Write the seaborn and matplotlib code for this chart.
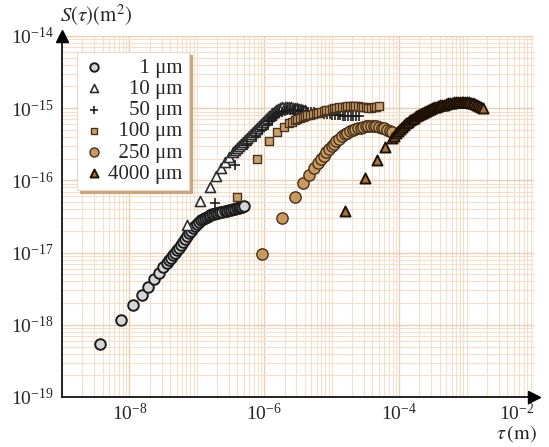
import numpy as np
import pandas as pd
import matplotlib
matplotlib.use("Agg")
import matplotlib.pyplot as plt
from matplotlib.ticker import FixedLocator, LogLocator, NullFormatter
import seaborn as sns

# Structure function S(tau) for several sampling scales (log10 of lag in m, log10 of S in m^2)
grain_um = [1, 10, 50, 100, 250, 4000]

log_tau_1um = [-8.43, -8.13, -7.94, -7.82, -7.73, -7.64, -7.56, -7.50, -7.44,
               -7.41, -7.38, -7.35, -7.32, -7.29, -7.26, -7.24, -7.21, -7.18, -7.15,
               -7.12, -7.09, -7.06, -7.03, -7.00, -6.97, -6.94, -6.91, -6.88, -6.85,
               -6.82, -6.80, -6.77, -6.74, -6.71, -6.68, -6.65, -6.62, -6.59, -6.56,
               -6.53, -6.50, -6.47, -6.44, -6.41, -6.38, -6.36, -6.33, -6.30]
log_s_1um = [-18.27, -17.93, -17.73, -17.59, -17.48, -17.37, -17.28, -17.20, -17.14,
             -17.10, -17.07, -17.03, -17.01, -16.96, -16.94, -16.89, -16.85, -16.81, -16.77,
             -16.73, -16.70, -16.66, -16.63, -16.60, -16.58, -16.55, -16.53, -16.52, -16.51,
             -16.49, -16.48, -16.47, -16.47, -16.45, -16.45, -16.44, -16.44, -16.42, -16.42,
             -16.41, -16.41, -16.40, -16.40, -16.38, -16.38, -16.37, -16.37, -16.35]

log_tau_10um = [-7.15, -6.95, -6.81, -6.72, -6.64, -6.58, -6.52, -6.46,
                -6.43, -6.40, -6.37, -6.35, -6.32, -6.29, -6.26, -6.23, -6.20, -6.17,
                -6.14, -6.11, -6.08, -6.05, -6.02, -5.99, -5.96, -5.93, -5.90, -5.88,
                -5.85, -5.82, -5.79, -5.76, -5.73, -5.70, -5.67, -5.64, -5.61, -5.58,
                -5.55, -5.52, -5.49, -5.46, -5.43, -5.40]
log_s_10um = [-16.62, -16.29, -16.09, -15.94, -15.83, -15.75, -15.68, -15.61,
              -15.58, -15.55, -15.52, -15.50, -15.47, -15.44, -15.41, -15.39, -15.36, -15.33,
              -15.30, -15.27, -15.25, -15.22, -15.19, -15.16, -15.14, -15.11, -15.09, -15.07,
              -15.05, -15.03, -15.01, -15.00, -14.98, -14.98, -14.98, -14.98, -14.98, -15.00,
              -15.00, -15.00, -15.01, -15.01, -15.03, -15.03]

log_tau_50um = [-6.73, -6.43, -6.25, -6.13, -6.03, -5.95,
                -5.93, -5.89, -5.85, -5.82, -5.78, -5.74, -5.70, -5.66, -5.62, -5.58,
                -5.54, -5.50, -5.46, -5.42, -5.38, -5.35, -5.31, -5.27, -5.23, -5.19,
                -5.15, -5.11, -5.07, -5.03, -4.99, -4.95, -4.91, -4.88, -4.84, -4.80,
                -4.76, -4.72, -4.68, -4.64, -4.60]
log_s_50um = [-16.31, -15.79, -15.51, -15.40, -15.30, -15.23,
              -15.18, -15.15, -15.12, -15.09, -15.07, -15.05, -15.04, -15.03, -15.03, -15.03,
              -15.03, -15.03, -15.04, -15.04, -15.04, -15.05, -15.05, -15.05, -15.07, -15.07,
              -15.07, -15.08, -15.08, -15.08, -15.09, -15.09, -15.09, -15.09, -15.11, -15.11,
              -15.11, -15.11, -15.11, -15.11, -15.11]

log_tau_100um = [-6.41, -6.11, -5.93, -5.81, -5.71, -5.63,
                 -5.59, -5.55, -5.51, -5.47, -5.43, -5.40, -5.36, -5.32, -5.28, -5.24,
                 -5.20, -5.16, -5.12, -5.08, -5.04, -5.00, -4.96, -4.93, -4.89, -4.85,
                 -4.81, -4.77, -4.73, -4.69, -4.65, -4.61, -4.57, -4.53, -4.49, -4.46,
                 -4.42, -4.38, -4.34, -4.30]
log_s_100um = [-16.23, -15.70, -15.45, -15.33, -15.26, -15.20,
               -15.19, -15.17, -15.15, -15.14, -15.12, -15.11, -15.10, -15.09, -15.08, -15.07,
               -15.06, -15.05, -15.04, -15.03, -15.02, -15.01, -15.00, -15.00, -14.99, -14.98,
               -14.98, -14.97, -14.97, -14.97, -14.97, -14.97, -14.98, -14.98, -14.99, -15.00,
               -15.00, -14.99, -14.98, -14.97]

log_tau_250um = [-6.03, -5.73, -5.55, -5.43, -5.34, -5.26, -5.20,
                 -5.16, -5.12, -5.08, -5.04, -5.00, -4.96, -4.93, -4.89, -4.85, -4.81,
                 -4.77, -4.73, -4.69, -4.65, -4.61, -4.57, -4.53, -4.49, -4.46, -4.42,
                 -4.38, -4.34, -4.30, -4.26, -4.22, -4.18, -4.14, -4.10]
log_s_250um = [-17.02, -16.52, -16.23, -16.04, -15.93, -15.83, -15.76,
               -15.70, -15.66, -15.61, -15.57, -15.52, -15.49, -15.45, -15.42, -15.39, -15.36,
               -15.34, -15.32, -15.30, -15.29, -15.27, -15.27, -15.26, -15.25, -15.25, -15.25,
               -15.25, -15.25, -15.26, -15.27, -15.28, -15.30, -15.31, -15.33]

log_tau_4000um = [-4.81, -4.51, -4.33, -4.21, -4.11,
                  -4.07, -4.04, -4.01, -3.99, -3.96, -3.93, -3.90, -3.87, -3.84, -3.81,
                  -3.78, -3.75, -3.72, -3.69, -3.66, -3.63, -3.60, -3.57, -3.54, -3.52,
                  -3.49, -3.46, -3.43, -3.40, -3.37, -3.34, -3.31, -3.28, -3.25, -3.22,
                  -3.19, -3.16, -3.13, -3.10, -3.07, -3.05, -3.02, -2.99, -2.96, -2.93,
                  -2.90, -2.87, -2.84, -2.81, -2.78, -2.75]
log_s_4000um = [-16.42, -15.97, -15.72, -15.54, -15.41,
                -15.39, -15.35, -15.32, -15.29, -15.26, -15.23, -15.21, -15.19, -15.17, -15.15,
                -15.13, -15.11, -15.09, -15.08, -15.07, -15.05, -15.04, -15.03, -15.01, -15.00,
                -14.99, -14.98, -14.97, -14.96, -14.96, -14.95, -14.94, -14.93, -14.93, -14.93,
                -14.92, -14.91, -14.91, -14.91, -14.91, -14.91, -14.91, -14.91, -14.91, -14.93,
                -14.93, -14.94, -14.96, -14.97, -14.98, -15.00]

x_ticks = [1e-8, 1e-6, 1e-4, 1e-2]
y_ticks = [1e-19, 1e-18, 1e-17, 1e-16, 1e-15, 1e-14]

series = [
    (log_tau_1um, log_s_1um),
    (log_tau_10um, log_s_10um),
    (log_tau_50um, log_s_50um),
    (log_tau_100um, log_s_100um),
    (log_tau_250um, log_s_250um),
    (log_tau_4000um, log_s_4000um),
]

frames = []
for d, (lt, ls) in zip(grain_um, series):
    frames.append(pd.DataFrame({"tau": 10.0 ** np.array(lt),
                                "S": 10.0 ** np.array(ls),
                                "grain": d}))
data = pd.concat(frames, ignore_index=True)

# marker styling per grain size
styles = {
    1:    dict(marker="o", s=58, color="#d6d6d6", edgecolor="#1c1c1c", linewidth=1.4),
    10:   dict(marker="^", s=52, color="#ffffff", edgecolor="#2e2e2e", linewidth=1.2),
    50:   dict(marker="+", s=62, color="#1e1e1e", linewidth=1.2),
    100:  dict(marker="s", s=36, color="#c9a06c", edgecolor="#4a321d", linewidth=1.0),
    250:  dict(marker="o", s=66, color="#c99a60", edgecolor="#46301a", linewidth=1.0),
    4000: dict(marker="^", s=52, color="#a8743e", edgecolor="#1e1206", linewidth=1.4),
}

sns.set_style("white")
plt.rcParams["font.family"] = ["Liberation Serif", "DejaVu Serif"]
plt.rcParams["mathtext.fontset"] = "stix"

fig = plt.figure(figsize=(5.49, 4.47), dpi=100)
ax = fig.add_axes([62 / 549, 1 - 397 / 447, (534 - 62) / 549, (397 - 36) / 447])

for d in grain_um:
    sub = data[data["grain"] == d]
    label = str(d).rjust(4, "\u2007") + " μm"
    sns.scatterplot(data=sub, x="tau", y="S", ax=ax, label=label, zorder=3,
                    **styles[d])

ax.set_xscale("log")
ax.set_yscale("log")
ax.set_xlim(1e-9, 1e-2)
ax.set_ylim(1e-19, 1e-14)

ax.xaxis.set_major_locator(FixedLocator(x_ticks))
ax.yaxis.set_major_locator(FixedLocator(y_ticks))
ax.xaxis.set_minor_locator(LogLocator(base=10, subs=np.arange(1, 10), numticks=100))
ax.yaxis.set_minor_locator(LogLocator(base=10, subs=np.arange(2, 10), numticks=100))
ax.xaxis.set_minor_formatter(NullFormatter())
ax.yaxis.set_minor_formatter(NullFormatter())

ax.grid(True, which="major", color="#ebcdb0", linewidth=1.0, zorder=0)
ax.grid(True, which="minor", color="#f2dfcc", linewidth=0.8, zorder=0)
ax.set_axisbelow(True)

ax.tick_params(which="both", length=0, labelsize=14)
ax.tick_params(axis="y", pad=6)
ax.tick_params(axis="x", pad=4)

for side in ("top", "right"):
    ax.spines[side].set_visible(False)
for side in ("left", "bottom"):
    ax.spines[side].set_color("black")
    ax.spines[side].set_linewidth(1.2)

# arrow heads on the axes
ax.plot(1, 0, ">", color="black", ms=8, transform=ax.transAxes, clip_on=False, zorder=5)
ax.plot(0, 1, "^", color="black", ms=8, transform=ax.transAxes, clip_on=False, zorder=5)

ax.set_xlabel("")
ax.set_ylabel("")
ax.xaxis.label.set_visible(False)
ax.yaxis.label.set_visible(False)

fig.canvas.draw()
xl = ax.get_xticklabels()
xl[-1].set_horizontalalignment("right")

fig.text(60 / 549, 1 - 22 / 447, r"$S(\tau)(\mathrm{m}^2)$", fontsize=15,
         ha="left", va="baseline")
fig.text(537 / 549, 1 - 439 / 447, r"$\tau\,(\mathrm{m})$", fontsize=14.5,
         ha="right", va="baseline")

leg = ax.legend(loc="upper left", bbox_to_anchor=(0.01, 0.985), fontsize=15,
                frameon=True, fancybox=False, handletextpad=0.2, labelspacing=0.08,
                borderpad=0.3, handlelength=1.0, markerscale=0.8,
                shadow={"color": "#c9a47c", "alpha": 1.0})
leg.get_frame().set_edgecolor("#ead8c6")
leg.get_frame().set_linewidth(0.8)
leg.get_frame().set_facecolor("white")

fig.savefig("out.png", dpi=100)
